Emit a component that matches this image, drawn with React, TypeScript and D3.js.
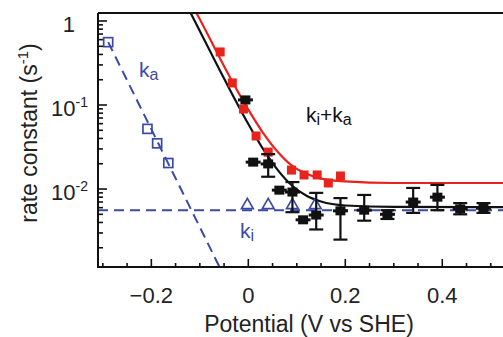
import { useRef, useEffect } from 'react';
import * as d3 from 'd3';

// k_a : open blue squares (potential V, rate s^-1)
const kaPoints: [number, number][] = [
  [-0.289, 0.56],
  [-0.208, 0.052],
  [-0.188, 0.035],
  [-0.165, 0.0204],
];

// k_i : open blue triangles
const kiPoints: [number, number][] = [
  [-0.002, 0.0066],
  [0.041, 0.0066],
  [0.091, 0.0066],
  [0.138, 0.0066],
];

// red filled squares
const redPoints: [number, number][] = [
  [-0.058, 0.428],
  [-0.033, 0.183],
  [-0.01, 0.0896],
  [0.016, 0.0428],
  [0.041, 0.0275],
  [0.089, 0.0168],
  [0.115, 0.0147],
  [0.142, 0.0147],
  [0.165, 0.0118],
  [0.19, 0.0143],
];

// black filled squares: [E, k, lower, upper] (lower/upper null = no error bar)
const blackPoints: [number, number, number | null, number | null][] = [
  [-0.006, 0.115, null, null],
  [0.01, 0.0209, null, null],
  [0.041, 0.0199, 0.014, 0.026],
  [0.064, 0.0097, null, null],
  [0.091, 0.0092, 0.0053, 0.0121],
  [0.113, 0.0043, null, null],
  [0.14, 0.0049, 0.0033, 0.009],
  [0.19, 0.0055, 0.0025, 0.0078],
  [0.239, 0.0056, 0.0042, 0.0085],
  [0.287, 0.005, 0.0044, 0.0056],
  [0.34, 0.007, 0.0052, 0.0103],
  [0.39, 0.008, 0.0056, 0.0112],
  [0.437, 0.0058, 0.005, 0.0068],
  [0.485, 0.0059, 0.0052, 0.0068],
];

// fitted curves
const redCurve: [number, number][] = [
  [-0.12, 1.71], [-0.1, 1.05], [-0.05, 0.29], [0, 0.088], [0.03, 0.047],
  [0.06, 0.028], [0.09, 0.019], [0.12, 0.0152], [0.15, 0.0133], [0.2, 0.0123],
  [0.3, 0.0118], [0.55, 0.0118],
];
const blackCurve: [number, number][] = [
  [-0.13, 1.667], [-0.1, 0.759], [-0.05, 0.2065], [0, 0.0594], [0.03, 0.0302],
  [0.06, 0.017], [0.09, 0.011], [0.12, 0.00832], [0.15, 0.0071], [0.2, 0.00637],
  [0.3, 0.00612], [0.55, 0.0061],
];
const kaLine: [number, number][] = [[-0.289, 0.56], [-0.06, 0.0012]];
const kiLine: [number, number][] = [[-0.31, 0.0056], [0.55, 0.0056]];

const xTickLabels = [-0.2, 0, 0.2, 0.4];
const yTickLabels: [number, string, string][] = [[1, '1', ''], [0.1, '10', '-1'], [0.01, '10', '-2']];

const BLUE = '#3b4aa6';
const RED = '#e8231e';
const FONT = '"Liberation Sans", Arial, sans-serif';

export default function App() {
  const svgRef = useRef<SVGSVGElement>(null);

  useEffect(() => {
    const svg = d3.select(svgRef.current);
    svg.selectAll('*').remove();

    const left = 98, top = 13, bottom = 267;
    const x = d3.scaleLinear().domain([-0.31, 0.55]).range([left, 515]);
    const y = d3.scaleLog().domain([0.00118, 1.245]).range([bottom, top]);

    svg.append('defs').append('clipPath').attr('id', 'plot')
      .append('rect').attr('x', left).attr('y', top).attr('width', 420).attr('height', bottom - top);

    const g = svg.append('g').attr('clip-path', 'url(#plot)');
    const line = d3.line<[number, number]>().x(d => x(d[0])).y(d => y(d[1]));
    const smooth = d3.line<[number, number]>().x(d => x(d[0])).y(d => y(d[1])).curve(d3.curveMonotoneX);

    // dashed blue lines
    [kaLine, kiLine].forEach(pts => {
      g.append('path').attr('d', line(pts)).attr('fill', 'none')
        .attr('stroke', BLUE).attr('stroke-width', 2).attr('stroke-dasharray', '10,6');
    });

    // fitted curves
    g.append('path').attr('d', smooth(redCurve)).attr('fill', 'none').attr('stroke', RED).attr('stroke-width', 2.2);
    g.append('path').attr('d', smooth(blackCurve)).attr('fill', 'none').attr('stroke', '#111').attr('stroke-width', 2.2);

    // blue open squares
    g.selectAll('.ka').data(kaPoints).enter().append('rect')
      .attr('x', d => x(d[0]) - 4.5).attr('y', d => y(d[1]) - 4.5)
      .attr('width', 9).attr('height', 9)
      .attr('fill', 'none').attr('stroke', BLUE).attr('stroke-width', 1.7);

    // blue open triangles
    const tri = d3.symbol().type(d3.symbolTriangle).size(60);
    g.selectAll('.ki').data(kiPoints).enter().append('path')
      .attr('d', tri())
      .attr('transform', d => `translate(${x(d[0])},${y(d[1]) + 1})`)
      .attr('fill', 'none').attr('stroke', BLUE).attr('stroke-width', 1.7);

    // red squares
    g.selectAll('.red').data(redPoints).enter().append('rect')
      .attr('x', d => x(d[0]) - 4.5).attr('y', d => y(d[1]) - 4.5)
      .attr('width', 9).attr('height', 9).attr('fill', RED);

    // black error bars + squares
    blackPoints.forEach(([e, k, lo, hi]) => {
      const cx = x(e);
      if (lo !== null && hi !== null) {
        g.append('line').attr('x1', cx).attr('x2', cx).attr('y1', y(lo)).attr('y2', y(hi))
          .attr('stroke', '#111').attr('stroke-width', 2.2);
        [lo, hi].forEach(v => {
          g.append('line').attr('x1', cx - 7).attr('x2', cx + 7).attr('y1', y(v)).attr('y2', y(v))
            .attr('stroke', '#111').attr('stroke-width', 2.2);
        });
      }
      g.append('rect').attr('x', cx - 5).attr('y', y(k) - 4.5).attr('width', 10).attr('height', 9).attr('fill', '#111');
      g.append('line').attr('x1', cx - 7.5).attr('x2', cx + 7.5).attr('y1', y(k)).attr('y2', y(k))
        .attr('stroke', '#111').attr('stroke-width', 3);
    });

    // frame
    svg.append('path')
      .attr('d', `M${left},${top} H520 M${left},${top} V${bottom} H520`)
      .attr('fill', 'none').attr('stroke', '#111').attr('stroke-width', 2);

    // x ticks
    const xMinor = d3.range(-0.3, 0.551, 0.05);
    xMinor.forEach(v => {
      const major = xTickLabels.some(t => Math.abs(t - v) < 1e-6);
      svg.append('line').attr('x1', x(v)).attr('x2', x(v)).attr('y1', bottom).attr('y2', bottom - (major ? 8 : 4))
        .attr('stroke', '#111').attr('stroke-width', 1.6);
    });
    xTickLabels.forEach(v => {
      svg.append('text').attr('x', x(v)).attr('y', 303).attr('text-anchor', 'middle')
        .attr('font-family', FONT).attr('font-size', 22).attr('fill', '#222')
        .text(v === 0 ? '0' : d3.format('.1f')(v));
    });

    // y ticks
    const [y0, y1] = y.domain();
    const minor: number[] = [];
    for (let p = -3; p <= 0; p++) {
      for (let m = 1; m <= 9; m++) {
        const v = m * Math.pow(10, p);
        if (v >= y0 && v <= y1) minor.push(v);
      }
    }
    minor.forEach(v => {
      const major = Math.abs(Math.log10(v) - Math.round(Math.log10(v))) < 1e-6;
      svg.append('line').attr('x1', left).attr('x2', left + (major ? 9 : 5)).attr('y1', y(v)).attr('y2', y(v))
        .attr('stroke', '#111').attr('stroke-width', 1.6);
    });
    yTickLabels.forEach(([v, base, sup]) => {
      const t = svg.append('text').attr('x', 75).attr('y', y(v) + 11).attr('text-anchor', sup ? 'start' : 'end')
        .attr('font-family', FONT).attr('font-size', 22).attr('fill', '#222');
      if (sup) {
        t.attr('x', 51);
        t.append('tspan').text(base);
        t.append('tspan').attr('font-size', 14).attr('dy', -9).text(sup);
      } else {
        t.text(base);
      }
    });

    // axis titles
    svg.append('text').attr('x', 309).attr('y', 332).attr('text-anchor', 'middle')
      .attr('font-family', FONT).attr('font-size', 23).attr('fill', '#222').text('Potential (V vs SHE)');
    const yl = svg.append('text').attr('transform', 'translate(37,133) rotate(-90)').attr('text-anchor', 'middle')
      .attr('font-family', FONT).attr('font-size', 23).attr('fill', '#222');
    yl.append('tspan').text('rate constant (s');
    yl.append('tspan').attr('font-size', 15).attr('dy', -9).text('-1');
    yl.append('tspan').attr('dy', 9).text(')');

    // in-plot labels
    const label = (px: number, py: number, sub: string, color: string) => {
      const t = svg.append('text').attr('x', px).attr('y', py)
        .attr('font-family', FONT).attr('font-size', 21).attr('fill', color);
      t.append('tspan').text('k');
      t.append('tspan').attr('font-size', 16).attr('dy', 3).text(sub);
      return t;
    };
    label(139, 77, 'a', BLUE);
    label(240, 238, 'i', BLUE);
    const sum = label(306, 122, 'i', '#111');
    sum.append('tspan').attr('dy', -3).text('+k');
    sum.append('tspan').attr('font-size', 16).attr('dy', 3).text('a');
  }, []);

  return (
    <svg ref={svgRef} width={503} height={337}
      style={{ position: 'absolute', left: 0, top: 0, background: '#fff' }} />
  );
}
